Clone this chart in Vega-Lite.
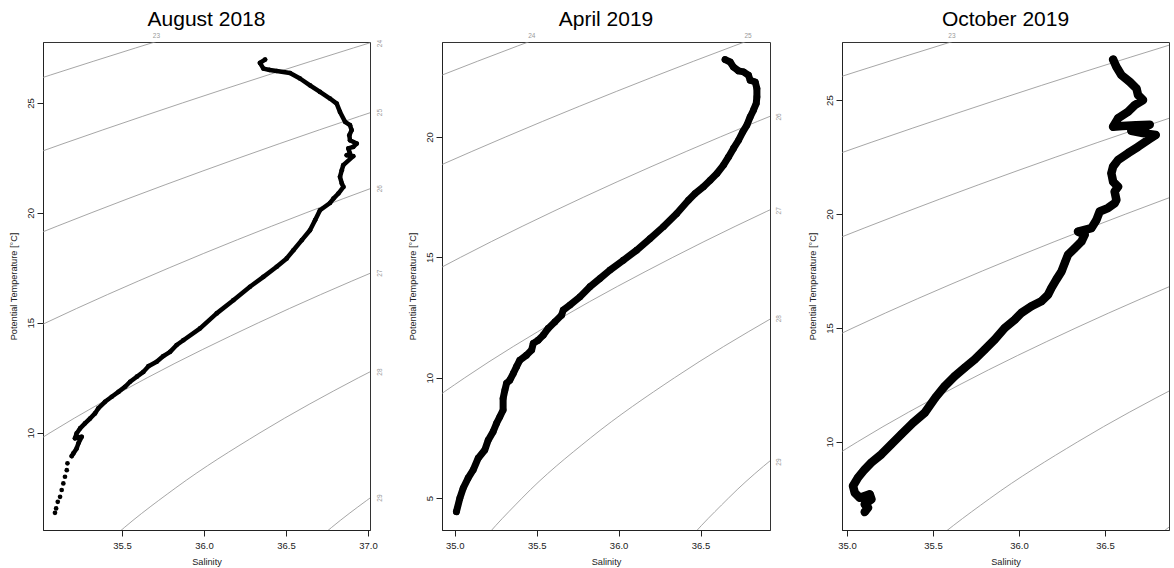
{
  "$schema": "https://vega.github.io/schema/vega-lite/v6.json",
  "padding": {"left": 8, "top": 8, "right": 5, "bottom": 2},
  "background": "white",
  "spacing": 72,
  "bounds": "flush",
  "config": {
    "view": {"stroke": "#333", "strokeWidth": 1},
    "font": "Liberation Sans",
    "title": {"font": "Liberation Sans", "fontSize": 21, "fontWeight": "normal", "color": "black", "baseline": "alphabetic", "offset": 2.7, "anchor": "middle", "frame": "group"},
    "axis": {"grid": false, "labelFont": "Liberation Sans", "labelFontSize": 9.5, "labelColor": "#222", "titleFont": "Liberation Sans", "titleFontSize": 9.2, "titleFontWeight": "normal", "titleColor": "#222", "tickColor": "#222", "domainColor": "#222", "tickSize": 6, "labelFlush": false, "labelOverlap": false},
    "axisX": {"labelPadding": 4.5, "titleY": 34, "titleBaseline": "alphabetic"},
    "axisY": {"labelAngle": -90, "labelAlign": "center", "labelBaseline": "bottom", "labelPadding": 1.5, "titleX": -30, "titleBaseline": "middle", "titleAngle": -90}
  },
  "datasets": {
    "isopycnals": [
      {"level": 23, "S": 33.58, "T": 22.5}, {"level": 23, "S": 34.546, "T": 25}, {"level": 23, "S": 35.583, "T": 27.5}, {"level": 23, "S": 36.69, "T": 30},
      {"level": 24, "S": 34.0, "T": 20}, {"level": 24, "S": 34.897, "T": 22.5}, {"level": 24, "S": 35.869, "T": 25}, {"level": 24, "S": 36.911, "T": 27.5}, {"level": 24, "S": 38.02, "T": 30},
      {"level": 25, "S": 33.74, "T": 15}, {"level": 25, "S": 34.484, "T": 17.5}, {"level": 25, "S": 35.311, "T": 20}, {"level": 25, "S": 36.214, "T": 22.5}, {"level": 25, "S": 37.192, "T": 25}, {"level": 25, "S": 38.24, "T": 27.5},
      {"level": 26, "S": 33.78, "T": 10}, {"level": 26, "S": 34.365, "T": 12.5}, {"level": 26, "S": 35.035, "T": 15}, {"level": 26, "S": 35.787, "T": 17.5}, {"level": 26, "S": 36.621, "T": 20}, {"level": 26, "S": 37.531, "T": 22.5}, {"level": 26, "S": 38.5, "T": 25},
      {"level": 27, "S": 34.149, "T": 5}, {"level": 27, "S": 34.558, "T": 7.5}, {"level": 27, "S": 35.061, "T": 10}, {"level": 27, "S": 35.653, "T": 12.5}, {"level": 27, "S": 36.331, "T": 15}, {"level": 27, "S": 37.091, "T": 17.5}, {"level": 27, "S": 37.932, "T": 20},
      {"level": 28, "S": 34.869, "T": 0}, {"level": 28, "S": 35.09, "T": 2.5}, {"level": 28, "S": 35.41, "T": 5}, {"level": 28, "S": 35.828, "T": 7.5}, {"level": 28, "S": 36.341, "T": 10}, {"level": 28, "S": 36.941, "T": 12.5}, {"level": 28, "S": 37.628, "T": 15},
      {"level": 29, "S": 36.107, "T": 0}, {"level": 29, "S": 36.339, "T": 2.5}, {"level": 29, "S": 36.67, "T": 5}, {"level": 29, "S": 37.099, "T": 7.5}, {"level": 29, "S": 37.621, "T": 10}
    ],
    "labels": [
      {"panel": 1, "side": "top", "level": 23, "S": 35.71, "T": 27.77},
      {"panel": 1, "side": "right", "level": 24, "S": 37.012, "T": 27.7},
      {"panel": 1, "side": "right", "level": 25, "S": 37.012, "T": 24.56},
      {"panel": 1, "side": "right", "level": 26, "S": 37.012, "T": 21.1},
      {"panel": 1, "side": "right", "level": 27, "S": 37.012, "T": 17.26},
      {"panel": 1, "side": "right", "level": 28, "S": 37.012, "T": 12.76},
      {"panel": 1, "side": "right", "level": 29, "S": 37.012, "T": 7.03},
      {"panel": 2, "side": "top", "level": 24, "S": 35.47, "T": 23.94},
      {"panel": 2, "side": "top", "level": 25, "S": 36.79, "T": 23.94},
      {"panel": 2, "side": "right", "level": 26, "S": 36.924, "T": 20.83},
      {"panel": 2, "side": "right", "level": 27, "S": 36.924, "T": 16.93},
      {"panel": 2, "side": "right", "level": 28, "S": 36.924, "T": 12.45},
      {"panel": 2, "side": "right", "level": 29, "S": 36.924, "T": 6.5},
      {"panel": 3, "side": "top", "level": 23, "S": 35.61, "T": 27.55}
    ],
    "profiles": [
      {"panel": 1, "i": 1, "S": 36.372, "T": 26.97}, {"panel": 1, "i": 2, "S": 36.341, "T": 26.82}, {"panel": 1, "i": 3, "S": 36.362, "T": 26.56}, {"panel": 1, "i": 4, "S": 36.4, "T": 26.5}, {"panel": 1, "i": 5, "S": 36.443, "T": 26.45}, {"panel": 1, "i": 6, "S": 36.524, "T": 26.36}, {"panel": 1, "i": 7, "S": 36.585, "T": 26.11}, {"panel": 1, "i": 8, "S": 36.646, "T": 25.8}, {"panel": 1, "i": 9, "S": 36.707, "T": 25.5}, {"panel": 1, "i": 10, "S": 36.768, "T": 25.2},
      {"panel": 1, "i": 11, "S": 36.809, "T": 24.97}, {"panel": 1, "i": 12, "S": 36.829, "T": 24.59}, {"panel": 1, "i": 13, "S": 36.86, "T": 24.14}, {"panel": 1, "i": 14, "S": 36.89, "T": 23.99}, {"panel": 1, "i": 15, "S": 36.9, "T": 23.76}, {"panel": 1, "i": 16, "S": 36.886, "T": 23.53}, {"panel": 1, "i": 17, "S": 36.89, "T": 23.3}, {"panel": 1, "i": 18, "S": 36.931, "T": 23.15}, {"panel": 1, "i": 19, "S": 36.91, "T": 23.0}, {"panel": 1, "i": 20, "S": 36.88, "T": 22.93},
      {"panel": 1, "i": 21, "S": 36.89, "T": 22.7}, {"panel": 1, "i": 22, "S": 36.87, "T": 22.62}, {"panel": 1, "i": 23, "S": 36.91, "T": 22.58}, {"panel": 1, "i": 24, "S": 36.849, "T": 22.17}, {"panel": 1, "i": 25, "S": 36.84, "T": 21.94}, {"panel": 1, "i": 26, "S": 36.829, "T": 21.64}, {"panel": 1, "i": 27, "S": 36.84, "T": 21.34}, {"panel": 1, "i": 28, "S": 36.85, "T": 21.18}, {"panel": 1, "i": 29, "S": 36.819, "T": 20.88}, {"panel": 1, "i": 30, "S": 36.789, "T": 20.65},
      {"panel": 1, "i": 31, "S": 36.768, "T": 20.45}, {"panel": 1, "i": 32, "S": 36.707, "T": 20.12}, {"panel": 1, "i": 33, "S": 36.677, "T": 19.67}, {"panel": 1, "i": 34, "S": 36.646, "T": 19.21}, {"panel": 1, "i": 35, "S": 36.596, "T": 18.76}, {"panel": 1, "i": 36, "S": 36.545, "T": 18.3}, {"panel": 1, "i": 37, "S": 36.504, "T": 17.93}, {"panel": 1, "i": 38, "S": 36.443, "T": 17.55}, {"panel": 1, "i": 39, "S": 36.362, "T": 17.09}, {"panel": 1, "i": 40, "S": 36.28, "T": 16.64},
      {"panel": 1, "i": 41, "S": 36.179, "T": 16.03}, {"panel": 1, "i": 42, "S": 36.077, "T": 15.43}, {"panel": 1, "i": 43, "S": 35.976, "T": 14.75}, {"panel": 1, "i": 44, "S": 35.874, "T": 14.21}, {"panel": 1, "i": 45, "S": 35.833, "T": 13.99}, {"panel": 1, "i": 46, "S": 35.793, "T": 13.68}, {"panel": 1, "i": 47, "S": 35.752, "T": 13.49}, {"panel": 1, "i": 48, "S": 35.711, "T": 13.23}, {"panel": 1, "i": 49, "S": 35.661, "T": 13.03}, {"panel": 1, "i": 50, "S": 35.63, "T": 12.77},
      {"panel": 1, "i": 51, "S": 35.59, "T": 12.55}, {"panel": 1, "i": 52, "S": 35.549, "T": 12.32}, {"panel": 1, "i": 53, "S": 35.518, "T": 12.09}, {"panel": 1, "i": 54, "S": 35.478, "T": 11.86}, {"panel": 1, "i": 55, "S": 35.437, "T": 11.64}, {"panel": 1, "i": 56, "S": 35.396, "T": 11.41}, {"panel": 1, "i": 57, "S": 35.355, "T": 11.11}, {"panel": 1, "i": 58, "S": 35.335, "T": 10.88}, {"panel": 1, "i": 59, "S": 35.305, "T": 10.65}, {"panel": 1, "i": 60, "S": 35.274, "T": 10.43},
      {"panel": 1, "i": 61, "S": 35.244, "T": 10.2}, {"panel": 1, "i": 62, "S": 35.223, "T": 9.97}, {"panel": 1, "i": 63, "S": 35.213, "T": 9.75}, {"panel": 1, "i": 64, "S": 35.254, "T": 9.82}, {"panel": 1, "i": 65, "S": 35.234, "T": 9.52}, {"panel": 1, "i": 66, "S": 35.223, "T": 9.29}, {"panel": 1, "i": 67, "S": 35.203, "T": 9.06}, {"panel": 1, "i": 68, "S": 35.193, "T": 8.94}, {"panel": 1, "i": 69, "S": 35.167, "T": 8.61}, {"panel": 1, "i": 70, "S": 35.163, "T": 8.3},
      {"panel": 1, "i": 71, "S": 35.152, "T": 8.0}, {"panel": 1, "i": 72, "S": 35.142, "T": 7.7}, {"panel": 1, "i": 73, "S": 35.132, "T": 7.4}, {"panel": 1, "i": 74, "S": 35.122, "T": 7.09}, {"panel": 1, "i": 75, "S": 35.108, "T": 6.86}, {"panel": 1, "i": 76, "S": 35.098, "T": 6.56}, {"panel": 1, "i": 77, "S": 35.091, "T": 6.36},

      {"panel": 2, "i": 1, "S": 36.65, "T": 23.21}, {"panel": 2, "i": 2, "S": 36.681, "T": 23.11}, {"panel": 2, "i": 3, "S": 36.701, "T": 22.9}, {"panel": 2, "i": 4, "S": 36.732, "T": 22.74}, {"panel": 2, "i": 5, "S": 36.762, "T": 22.7}, {"panel": 2, "i": 6, "S": 36.793, "T": 22.56}, {"panel": 2, "i": 7, "S": 36.803, "T": 22.35}, {"panel": 2, "i": 8, "S": 36.834, "T": 22.28}, {"panel": 2, "i": 9, "S": 36.844, "T": 22.01}, {"panel": 2, "i": 10, "S": 36.844, "T": 21.66},
      {"panel": 2, "i": 11, "S": 36.84, "T": 21.39}, {"panel": 2, "i": 12, "S": 36.823, "T": 21.11}, {"panel": 2, "i": 13, "S": 36.803, "T": 20.83}, {"panel": 2, "i": 14, "S": 36.783, "T": 20.49}, {"panel": 2, "i": 15, "S": 36.758, "T": 20.21}, {"panel": 2, "i": 16, "S": 36.732, "T": 19.86}, {"panel": 2, "i": 17, "S": 36.701, "T": 19.52}, {"panel": 2, "i": 18, "S": 36.671, "T": 19.17}, {"panel": 2, "i": 19, "S": 36.64, "T": 18.83}, {"panel": 2, "i": 20, "S": 36.6, "T": 18.48},
      {"panel": 2, "i": 21, "S": 36.559, "T": 18.2}, {"panel": 2, "i": 22, "S": 36.518, "T": 17.93}, {"panel": 2, "i": 23, "S": 36.467, "T": 17.65}, {"panel": 2, "i": 24, "S": 36.426, "T": 17.37}, {"panel": 2, "i": 25, "S": 36.355, "T": 16.82}, {"panel": 2, "i": 26, "S": 36.273, "T": 16.27}, {"panel": 2, "i": 27, "S": 36.192, "T": 15.78}, {"panel": 2, "i": 28, "S": 36.111, "T": 15.3}, {"panel": 2, "i": 29, "S": 36.029, "T": 14.88}, {"panel": 2, "i": 30, "S": 35.947, "T": 14.47},
      {"panel": 2, "i": 31, "S": 35.886, "T": 14.12}, {"panel": 2, "i": 32, "S": 35.825, "T": 13.78}, {"panel": 2, "i": 33, "S": 35.764, "T": 13.36}, {"panel": 2, "i": 34, "S": 35.703, "T": 13.02}, {"panel": 2, "i": 35, "S": 35.662, "T": 12.81}, {"panel": 2, "i": 36, "S": 35.652, "T": 12.6}, {"panel": 2, "i": 37, "S": 35.611, "T": 12.32}, {"panel": 2, "i": 38, "S": 35.57, "T": 12.05}, {"panel": 2, "i": 39, "S": 35.54, "T": 11.77}, {"panel": 2, "i": 40, "S": 35.509, "T": 11.56},
      {"panel": 2, "i": 41, "S": 35.479, "T": 11.43}, {"panel": 2, "i": 42, "S": 35.469, "T": 11.15}, {"panel": 2, "i": 43, "S": 35.438, "T": 10.94}, {"panel": 2, "i": 44, "S": 35.397, "T": 10.73}, {"panel": 2, "i": 45, "S": 35.377, "T": 10.46}, {"panel": 2, "i": 46, "S": 35.357, "T": 10.18}, {"panel": 2, "i": 47, "S": 35.336, "T": 9.9}, {"panel": 2, "i": 48, "S": 35.316, "T": 9.77}, {"panel": 2, "i": 49, "S": 35.306, "T": 9.49}, {"panel": 2, "i": 50, "S": 35.295, "T": 9.14},
      {"panel": 2, "i": 51, "S": 35.295, "T": 8.66}, {"panel": 2, "i": 52, "S": 35.275, "T": 8.38}, {"panel": 2, "i": 53, "S": 35.255, "T": 8.11}, {"panel": 2, "i": 54, "S": 35.234, "T": 7.76}, {"panel": 2, "i": 55, "S": 35.204, "T": 7.41}, {"panel": 2, "i": 56, "S": 35.183, "T": 7.0}, {"panel": 2, "i": 57, "S": 35.143, "T": 6.66}, {"panel": 2, "i": 58, "S": 35.112, "T": 6.17}, {"panel": 2, "i": 59, "S": 35.081, "T": 5.83}, {"panel": 2, "i": 60, "S": 35.051, "T": 5.41},
      {"panel": 2, "i": 61, "S": 35.031, "T": 5.0}, {"panel": 2, "i": 62, "S": 35.01, "T": 4.44},

      {"panel": 3, "i": 1, "S": 36.547, "T": 26.78}, {"panel": 3, "i": 2, "S": 36.566, "T": 26.46}, {"panel": 3, "i": 3, "S": 36.595, "T": 26.1}, {"panel": 3, "i": 4, "S": 36.644, "T": 25.8}, {"panel": 3, "i": 5, "S": 36.683, "T": 25.51}, {"panel": 3, "i": 6, "S": 36.692, "T": 25.22}, {"panel": 3, "i": 7, "S": 36.721, "T": 25.0}, {"panel": 3, "i": 8, "S": 36.673, "T": 24.78}, {"panel": 3, "i": 9, "S": 36.634, "T": 24.49}, {"panel": 3, "i": 10, "S": 36.576, "T": 24.2},
      {"panel": 3, "i": 11, "S": 36.547, "T": 23.83}, {"panel": 3, "i": 12, "S": 36.6, "T": 23.86}, {"panel": 3, "i": 13, "S": 36.68, "T": 23.9}, {"panel": 3, "i": 14, "S": 36.76, "T": 23.92}, {"panel": 3, "i": 15, "S": 36.7, "T": 23.72}, {"panel": 3, "i": 16, "S": 36.653, "T": 23.65}, {"panel": 3, "i": 17, "S": 36.72, "T": 23.55}, {"panel": 3, "i": 18, "S": 36.795, "T": 23.47}, {"panel": 3, "i": 19, "S": 36.75, "T": 23.25}, {"panel": 3, "i": 20, "S": 36.692, "T": 22.95},
      {"panel": 3, "i": 21, "S": 36.634, "T": 22.67}, {"panel": 3, "i": 22, "S": 36.576, "T": 22.37}, {"panel": 3, "i": 23, "S": 36.547, "T": 22.08}, {"panel": 3, "i": 24, "S": 36.537, "T": 21.79}, {"panel": 3, "i": 25, "S": 36.547, "T": 21.42}, {"panel": 3, "i": 26, "S": 36.576, "T": 21.2}, {"panel": 3, "i": 27, "S": 36.556, "T": 20.98}, {"panel": 3, "i": 28, "S": 36.566, "T": 20.62}, {"panel": 3, "i": 29, "S": 36.556, "T": 20.47}, {"panel": 3, "i": 30, "S": 36.517, "T": 20.26},
      {"panel": 3, "i": 31, "S": 36.469, "T": 20.11}, {"panel": 3, "i": 32, "S": 36.45, "T": 19.74}, {"panel": 3, "i": 33, "S": 36.421, "T": 19.38}, {"panel": 3, "i": 34, "S": 36.343, "T": 19.23}, {"panel": 3, "i": 35, "S": 36.382, "T": 19.09}, {"panel": 3, "i": 36, "S": 36.363, "T": 18.79}, {"panel": 3, "i": 37, "S": 36.324, "T": 18.5}, {"panel": 3, "i": 38, "S": 36.285, "T": 18.21}, {"panel": 3, "i": 39, "S": 36.266, "T": 17.85}, {"panel": 3, "i": 40, "S": 36.247, "T": 17.48},
      {"panel": 3, "i": 41, "S": 36.217, "T": 17.12}, {"panel": 3, "i": 42, "S": 36.188, "T": 16.75}, {"panel": 3, "i": 43, "S": 36.169, "T": 16.46}, {"panel": 3, "i": 44, "S": 36.13, "T": 16.17}, {"panel": 3, "i": 45, "S": 36.072, "T": 15.95}, {"panel": 3, "i": 46, "S": 36.014, "T": 15.66}, {"panel": 3, "i": 47, "S": 35.975, "T": 15.36}, {"panel": 3, "i": 48, "S": 35.917, "T": 15.0}, {"panel": 3, "i": 49, "S": 35.859, "T": 14.49}, {"panel": 3, "i": 50, "S": 35.801, "T": 14.05},
      {"panel": 3, "i": 51, "S": 35.742, "T": 13.61}, {"panel": 3, "i": 52, "S": 35.684, "T": 13.25}, {"panel": 3, "i": 53, "S": 35.626, "T": 12.88}, {"panel": 3, "i": 54, "S": 35.568, "T": 12.44}, {"panel": 3, "i": 55, "S": 35.515, "T": 11.95}, {"panel": 3, "i": 56, "S": 35.452, "T": 11.28}, {"panel": 3, "i": 57, "S": 35.384, "T": 10.84}, {"panel": 3, "i": 58, "S": 35.316, "T": 10.33}, {"panel": 3, "i": 59, "S": 35.258, "T": 9.89}, {"panel": 3, "i": 60, "S": 35.2, "T": 9.45},
      {"panel": 3, "i": 61, "S": 35.142, "T": 9.09}, {"panel": 3, "i": 62, "S": 35.103, "T": 8.79}, {"panel": 3, "i": 63, "S": 35.064, "T": 8.43}, {"panel": 3, "i": 64, "S": 35.035, "T": 8.06}, {"panel": 3, "i": 65, "S": 35.045, "T": 7.77}, {"panel": 3, "i": 66, "S": 35.074, "T": 7.55}, {"panel": 3, "i": 67, "S": 35.132, "T": 7.7}, {"panel": 3, "i": 68, "S": 35.142, "T": 7.48}, {"panel": 3, "i": 69, "S": 35.103, "T": 7.26}, {"panel": 3, "i": 70, "S": 35.122, "T": 7.11},
      {"panel": 3, "i": 71, "S": 35.103, "T": 6.92}
    ]
  },
  "hconcat": [
    {
      "title": "August 2018",
      "width": 327, "height": 488,
      "encoding": {
        "x": {"field": "S", "type": "quantitative", "scale": {"domain": [35.018, 37.012], "nice": false, "zero": false}, "axis": {"values": [35.5, 36, 36.5, 37], "format": ".1f", "title": "Salinity"}},
        "y": {"field": "T", "type": "quantitative", "scale": {"domain": [5.58, 27.77], "nice": false, "zero": false}, "axis": {"values": [10, 15, 20, 25], "format": "d", "title": "Potential Temperature [°C]"}}
      },
      "layer": [
        {"data": {"name": "isopycnals"}, "mark": {"type": "line", "clip": true, "color": "#8f8f8f", "strokeWidth": 0.8, "interpolate": "monotone"}, "encoding": {"detail": {"field": "level", "type": "nominal"}}},
        {"data": {"name": "labels"}, "transform": [{"filter": "datum.panel == 1 && datum.side == 'top'"}], "mark": {"type": "text", "fontSize": 6.5, "color": "#9a9a9a", "baseline": "middle", "align": "center", "dy": -6}, "encoding": {"text": {"field": "level", "type": "nominal"}}},
        {"data": {"name": "labels"}, "transform": [{"filter": "datum.panel == 1 && datum.side == 'right'"}], "mark": {"type": "text", "fontSize": 6.5, "color": "#9a9a9a", "baseline": "middle", "align": "center", "angle": 270, "dy": 9.5}, "encoding": {"text": {"field": "level", "type": "nominal"}}},
        {"data": {"name": "profiles"}, "transform": [{"filter": "datum.panel == 1 && datum.T > 8.9"}], "mark": {"type": "line", "color": "black", "strokeWidth": 4.5, "strokeCap": "round", "strokeJoin": "round"}, "encoding": {"order": {"field": "i", "type": "quantitative"}}},
        {"data": {"name": "profiles"}, "transform": [{"filter": "datum.panel == 1"}], "mark": {"type": "circle", "color": "black", "size": 22, "opacity": 1}}
      ]
    },
    {
      "title": "April 2019",
      "width": 328, "height": 488,
      "encoding": {
        "x": {"field": "S", "type": "quantitative", "scale": {"domain": [34.922, 36.924], "nice": false, "zero": false}, "axis": {"values": [35, 35.5, 36, 36.5], "format": ".1f", "title": "Salinity"}},
        "y": {"field": "T", "type": "quantitative", "scale": {"domain": [3.68, 23.94], "nice": false, "zero": false}, "axis": {"values": [5, 10, 15, 20], "format": "d", "title": "Potential Temperature [°C]"}}
      },
      "layer": [
        {"data": {"name": "isopycnals"}, "mark": {"type": "line", "clip": true, "color": "#8f8f8f", "strokeWidth": 0.8, "interpolate": "monotone"}, "encoding": {"detail": {"field": "level", "type": "nominal"}}},
        {"data": {"name": "labels"}, "transform": [{"filter": "datum.panel == 2 && datum.side == 'top'"}], "mark": {"type": "text", "fontSize": 6.5, "color": "#9a9a9a", "baseline": "middle", "align": "center", "dy": -6}, "encoding": {"text": {"field": "level", "type": "nominal"}}},
        {"data": {"name": "labels"}, "transform": [{"filter": "datum.panel == 2 && datum.side == 'right'"}], "mark": {"type": "text", "fontSize": 6.5, "color": "#9a9a9a", "baseline": "middle", "align": "center", "angle": 270, "dy": 8.5}, "encoding": {"text": {"field": "level", "type": "nominal"}}},
        {"data": {"name": "profiles"}, "transform": [{"filter": "datum.panel == 2"}], "mark": {"type": "line", "color": "black", "strokeWidth": 7, "strokeCap": "round", "strokeJoin": "round"}, "encoding": {"order": {"field": "i", "type": "quantitative"}}},
        {"data": {"name": "profiles"}, "transform": [{"filter": "datum.panel == 2"}], "mark": {"type": "circle", "color": "black", "size": 45, "opacity": 1}}
      ]
    },
    {
      "title": "October 2019",
      "width": 327, "height": 488,
      "encoding": {
        "x": {"field": "S", "type": "quantitative", "scale": {"domain": [34.971, 36.872], "nice": false, "zero": false}, "axis": {"values": [35, 35.5, 36, 36.5], "format": ".1f", "title": "Salinity"}},
        "y": {"field": "T", "type": "quantitative", "scale": {"domain": [6.13, 27.55], "nice": false, "zero": false}, "axis": {"values": [10, 15, 20, 25], "format": "d", "title": "Potential Temperature [°C]"}}
      },
      "layer": [
        {"data": {"name": "isopycnals"}, "mark": {"type": "line", "clip": true, "color": "#8f8f8f", "strokeWidth": 0.8, "interpolate": "monotone"}, "encoding": {"detail": {"field": "level", "type": "nominal"}}},
        {"data": {"name": "labels"}, "transform": [{"filter": "datum.panel == 3 && datum.side == 'top'"}], "mark": {"type": "text", "fontSize": 6.5, "color": "#9a9a9a", "baseline": "middle", "align": "center", "dy": -6}, "encoding": {"text": {"field": "level", "type": "nominal"}}},
        {"data": {"name": "profiles"}, "transform": [{"filter": "datum.panel == 3"}], "mark": {"type": "line", "color": "black", "strokeWidth": 8.5, "strokeCap": "round", "strokeJoin": "round"}, "encoding": {"order": {"field": "i", "type": "quantitative"}}},
        {"data": {"name": "profiles"}, "transform": [{"filter": "datum.panel == 3"}], "mark": {"type": "circle", "color": "black", "size": 55, "opacity": 1}}
      ]
    }
  ]
}
